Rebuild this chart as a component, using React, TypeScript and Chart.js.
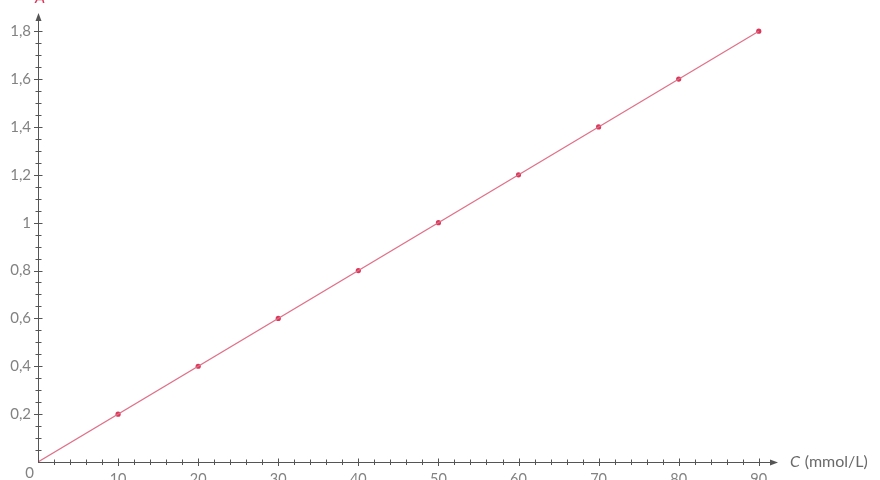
import React, { useEffect, useRef } from "react";
import { Chart, registerables, Plugin } from "chart.js";

Chart.register(...registerables);

// measured points: concentration (mmol/L) and absorbance
const concentrations = [10, 20, 30, 40, 50, 60, 70, 80, 90];
const absorbances = [0.2, 0.4, 0.6, 0.8, 1.0, 1.2, 1.4, 1.6, 1.8];

// fitted line end points
const fitX = [0, 90];
const fitY = [0, 1.8];

const xTickLabels = ["10", "20", "30", "40", "50", "60", "70", "80", "90"];
const yTickLabels = ["0,2", "0,4", "0,6", "0,8", "1", "1,2", "1,4", "1,6", "1,8"];

const AXIS = "#555";
const TEXT = "#828282";
const PINK = "#d9385a";
const FONT = "Lato, 'DejaVu Sans', sans-serif";

// draws the arrowed axes, ticks and labels from the chart's own scales
const axesPlugin: Plugin<"scatter"> = {
  id: "arrowAxes",
  afterDraw(chart) {
    const { ctx, chartArea, scales } = chart;
    const xs = scales.x;
    const ys = scales.y;
    const ox = xs.getPixelForValue(0);
    const oy = ys.getPixelForValue(0);
    const right = chartArea.right;
    const top = chartArea.top;

    ctx.save();
    ctx.strokeStyle = AXIS;
    ctx.fillStyle = AXIS;
    ctx.lineWidth = 1;

    // axis lines
    ctx.beginPath();
    ctx.moveTo(ox, oy + 0.5);
    ctx.lineTo(right - 4, oy + 0.5);
    ctx.moveTo(ox + 0.5, oy);
    ctx.lineTo(ox + 0.5, top + 4);
    ctx.stroke();

    // arrow heads
    ctx.beginPath();
    ctx.moveTo(right, oy + 0.5);
    ctx.lineTo(right - 8, oy - 2.5);
    ctx.lineTo(right - 8, oy + 3.5);
    ctx.closePath();
    ctx.fill();
    ctx.beginPath();
    ctx.moveTo(ox + 0.5, top);
    ctx.lineTo(ox - 2.5, top + 8);
    ctx.lineTo(ox + 3.5, top + 8);
    ctx.closePath();
    ctx.fill();

    // x ticks: minor every 2, major every 10
    ctx.beginPath();
    for (let v = 2; v <= 90; v += 2) {
      const px = Math.round(xs.getPixelForValue(v)) + 0.5;
      const major = v % 10 === 0;
      ctx.moveTo(px, oy - (major ? 3.5 : 2.5));
      ctx.lineTo(px, oy + (major ? 4 : 3));
    }
    // y ticks: minor every 0.05, major every 0.2
    for (let i = 1; i <= 36; i++) {
      const py = Math.round(ys.getPixelForValue(i * 0.05)) + 0.5;
      const major = i % 4 === 0;
      ctx.moveTo(ox - (major ? 4 : 2.5), py);
      ctx.lineTo(ox + (major ? 4.5 : 3.5), py);
    }
    ctx.stroke();

    // tick labels
    ctx.fillStyle = TEXT;
    ctx.font = `14.5px ${FONT}`;
    ctx.textAlign = "center";
    ctx.textBaseline = "top";
    xTickLabels.forEach((t, i) => {
      ctx.fillText(t, xs.getPixelForValue(concentrations[i]), oy + 10);
    });
    ctx.font = `15px ${FONT}`;
    ctx.textAlign = "right";
    ctx.textBaseline = "middle";
    yTickLabels.forEach((t, i) => {
      ctx.fillText(t, ox - 7, ys.getPixelForValue(absorbances[i]));
    });
    ctx.textBaseline = "top";
    ctx.fillText("0", ox - 4, oy + 4);

    // axis titles
    ctx.textAlign = "left";
    ctx.textBaseline = "middle";
    ctx.font = `italic 16px ${FONT}`;
    ctx.fillStyle = "#6a6a6a";
    const cx = right + 12;
    ctx.fillText("C", cx, oy);
    const cw = ctx.measureText("C ").width;
    ctx.font = `16px ${FONT}`;
    ctx.fillText("(mmol/L)", cx + cw + 1, oy);

    ctx.font = `italic 16px ${FONT}`;
    ctx.fillStyle = PINK;
    ctx.textAlign = "center";
    ctx.textBaseline = "bottom";
    ctx.fillText("A", ox + 2, top - 7);
    ctx.restore();
  },
};

const App: React.FC = () => {
  const canvasRef = useRef<HTMLCanvasElement | null>(null);
  const chartRef = useRef<Chart<"scatter"> | null>(null);

  useEffect(() => {
    document.body.style.margin = "0";
    if (!canvasRef.current) return;
    const ctx = canvasRef.current.getContext("2d");
    if (!ctx) return;

    chartRef.current = new Chart(ctx, {
      type: "scatter",
      data: {
        datasets: [
          {
            type: "line",
            data: fitX.map((x, i) => ({ x, y: fitY[i] })),
            borderColor: "#e07088",
            borderWidth: 1.2,
            pointRadius: 0,
            fill: false,
          },
          {
            data: concentrations.map((x, i) => ({ x, y: absorbances[i] })),
            backgroundColor: PINK,
            borderColor: PINK,
            pointRadius: 2.6,
            borderWidth: 0,
          },
        ] as any,
      },
      options: {
        responsive: false,
        animation: false,
        layout: { padding: { left: 38, right: 102, top: 13, bottom: 18 } },
        scales: {
          x: { type: "linear", min: 0, max: 92.4, display: false },
          y: { type: "linear", min: 0, max: 1.876, display: false },
        },
        plugins: {
          legend: { display: false },
          tooltip: { enabled: false },
        },
      },
      plugins: [axesPlugin],
    });

    return () => {
      chartRef.current?.destroy();
      chartRef.current = null;
    };
  }, []);

  return (
    <div style={{ width: 880, height: 480, background: "#fff" }}>
      <canvas ref={canvasRef} width={880} height={480} />
    </div>
  );
};

export default App;
